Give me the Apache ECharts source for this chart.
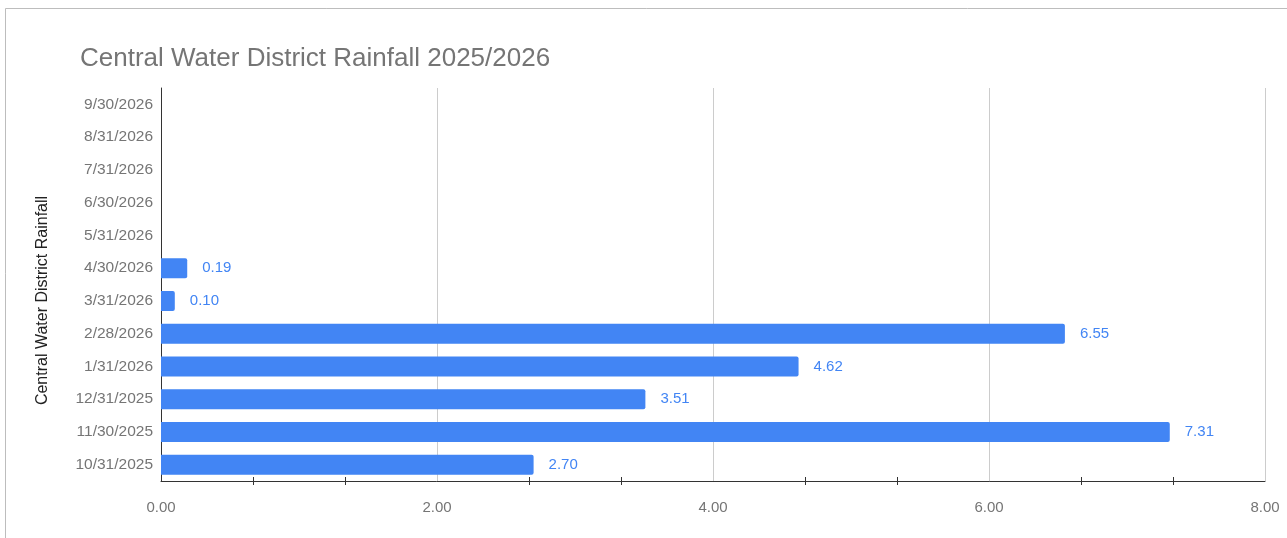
<!DOCTYPE html>
<html>
<head>
<meta charset="utf-8">
<script src="https://cdn.jsdelivr.net/npm/echarts@6/dist/echarts.min.js"></script>
<style>
html,body{margin:0;padding:0;background:#fff;}
#chart{width:1287px;height:538px;}
</style>
</head>
<body>
<div id="chart"></div>
<script>
var titleText = 'Central Water District Rainfall 2025/2026';
var axisName = 'Central Water District Rainfall';
var categories = ['10/31/2025','11/30/2025','12/31/2025','1/31/2026','2/28/2026','3/31/2026','4/30/2026','5/31/2026','6/30/2026','7/31/2026','8/31/2026','9/30/2026'];
var rainfall = [2.70, 7.31, 3.51, 4.62, 6.55, 0.10, 0.19, '-', '-', '-', '-', '-'];
var xMin = 0, xMax = 8, xStep = 2;

var FONT = "'Liberation Sans', Arial, sans-serif";
var chart = echarts.init(document.getElementById('chart'), null, {renderer: 'canvas'});
var option = {
  backgroundColor: '#ffffff',
  animation: false,
  textStyle: {fontFamily: FONT},
  graphic: [{
    type: 'rect', silent: true, z: -10,
    shape: {x: 5.5, y: 8.5, width: 1400, height: 700},
    style: {fill: 'none', stroke: '#bdbdbd', lineWidth: 1}
  }],
  title: {
    text: titleText,
    left: 75, top: 41,
    textStyle: {fontFamily: FONT, fontSize: 26, fontWeight: 'normal', color: '#757575'}
  },
  grid: {left: 161, right: 22, top: 88, bottom: 57, containLabel: false},
  xAxis: [{
    type: 'value', min: xMin, max: xMax, interval: xStep,
    axisLine: {show: true, lineStyle: {color: '#333', width: 1}},
    axisTick: {show: false},
    minorTick: {show: true, splitNumber: 3, length: 4, lineStyle: {color: '#333', width: 1}},
    splitLine: {show: true, lineStyle: {color: '#cccccc', width: 1}},
    minorSplitLine: {show: false},
    axisLabel: {color: '#757575', fontSize: 15, fontFamily: FONT, margin: 19,
      formatter: function (v) { return v.toFixed(2); }}
  }, {
    type: 'value', min: xMin, max: xMax, interval: xStep, position: 'bottom',
    axisLine: {show: false},
    axisTick: {show: false, inside: true},
    minorTick: {show: true, splitNumber: 3, length: 4, lineStyle: {color: '#333', width: 1}},
    splitLine: {show: false},
    axisLabel: {show: false}
  }],
  yAxis: {
    type: 'category', data: categories,
    name: axisName, nameLocation: 'middle', nameGap: 110, nameRotate: 90,
    nameTextStyle: {color: '#222', fontSize: 16, fontFamily: FONT, padding: [0, 32, 0, 0]},
    axisLine: {show: true, lineStyle: {color: '#333', width: 1}},
    axisTick: {show: false},
    splitLine: {show: false},
    axisLabel: {color: '#757575', fontSize: 15.5, fontFamily: FONT, margin: 8}
  },
  series: [{
    type: 'bar', data: rainfall, xAxisIndex: 0,
    barWidth: 20,
    itemStyle: {color: '#4285F4', borderRadius: [0, 2, 2, 0]},
    label: {show: true, position: 'right', distance: 15, color: '#4285F4',
      fontSize: 15, fontFamily: FONT,
      formatter: function (p) { return Number(p.value).toFixed(2); }}
  }]
};
chart.setOption(option);
</script>
</body>
</html>
